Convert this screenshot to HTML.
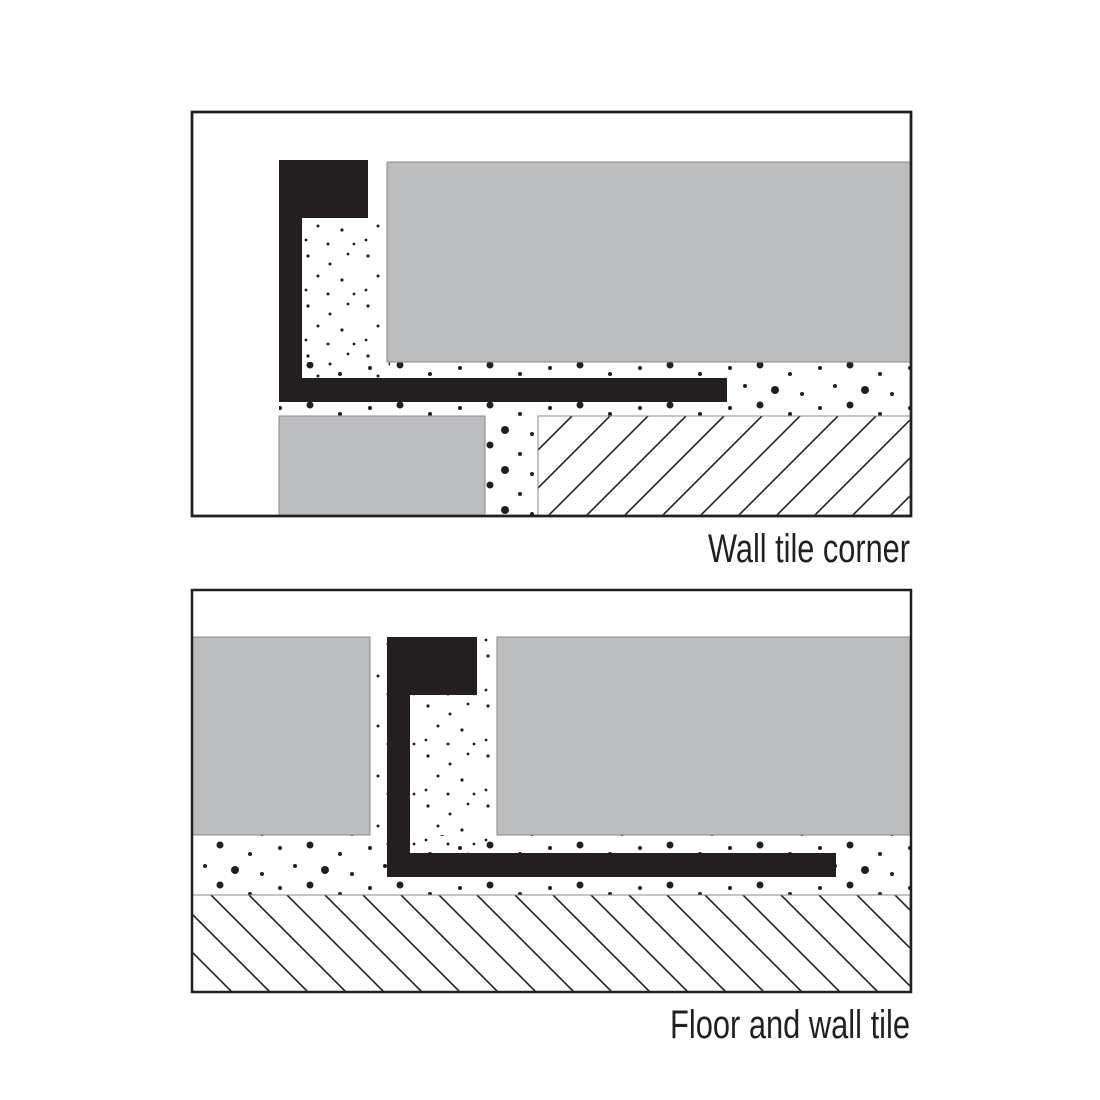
<!DOCTYPE html>
<html><head><meta charset="utf-8"><style>html,body{margin:0;padding:0;background:#fff}svg{display:block}</style></head>
<body>
<svg width="1100" height="1100" viewBox="0 0 1100 1100" xmlns="http://www.w3.org/2000/svg">
<defs>
<pattern id="hf" patternUnits="userSpaceOnUse" width="38" height="38" patternTransform="rotate(0)">
<path d="M-10 48 L48 -10 M-48 48 L10 -10 M28 48 L86 -10" stroke="#231f20" stroke-width="1.6"/>
</pattern>
<pattern id="hb" patternUnits="userSpaceOnUse" width="38" height="38">
<path d="M-10 -10 L48 48 M-48 -10 L10 48 M28 -10 L86 48" stroke="#231f20" stroke-width="1.6"/>
</pattern>
<pattern id="dots" patternUnits="userSpaceOnUse" width="60" height="50">
<circle cx="8" cy="6" r="1.6" fill="#231f20"/><circle cx="30" cy="14" r="1.5" fill="#231f20"/>
<circle cx="48" cy="4" r="1.4" fill="#231f20"/><circle cx="18" cy="26" r="1.5" fill="#231f20"/>
<circle cx="42" cy="30" r="1.6" fill="#231f20"/><circle cx="6" cy="40" r="1.4" fill="#231f20"/>
<circle cx="28" cy="44" r="1.5" fill="#231f20"/><circle cx="54" cy="44" r="1.4" fill="#231f20"/>
</pattern>
<pattern id="bigdots" patternUnits="userSpaceOnUse" width="90" height="40">
<circle cx="10" cy="8" r="2" fill="#231f20"/><circle cx="40" cy="5" r="3.5" fill="#231f20"/>
<circle cx="70" cy="14" r="2" fill="#231f20"/><circle cx="25" cy="26" r="2" fill="#231f20"/>
<circle cx="55" cy="30" r="4" fill="#231f20"/><circle cx="82" cy="34" r="2" fill="#231f20"/>
</pattern>
</defs>

<!-- TOP DIAGRAM -->
<rect x="192" y="112" width="719" height="404" fill="#fff" stroke="#231f20" stroke-width="2.5"/>
<rect x="300" y="215" width="90" height="165" fill="url(#dots)"/>
<rect x="279" y="362" width="631" height="54" fill="url(#bigdots)"/>
<rect x="485" y="416" width="53" height="99" fill="url(#bigdots)"/>
<rect x="387" y="162" width="523" height="200" fill="#bcbdbf" stroke="#888" stroke-width="1"/>
<path d="M279 160 H368 V218 H302 V378 H727 V402 H279 Z" fill="#231f20"/>
<rect x="279" y="416" width="206" height="99" fill="#bcbdbf" stroke="#888" stroke-width="1"/>
<rect x="538" y="416" width="372" height="99" fill="url(#hf)" stroke="#888" stroke-width="1"/>
<rect x="192" y="112" width="719" height="404" fill="none" stroke="#231f20" stroke-width="2.5"/>
<text x="910" y="562" text-anchor="end" font-family="Liberation Sans Narrow, Liberation Sans, sans-serif" font-size="40" textLength="202" lengthAdjust="spacingAndGlyphs" fill="#231f20">Wall tile corner</text>

<!-- BOTTOM DIAGRAM -->
<rect x="192" y="590" width="719" height="402" fill="#fff"/>
<rect x="370" y="637" width="127" height="220" fill="url(#dots)"/>
<rect x="192" y="835" width="718" height="60" fill="url(#bigdots)"/>
<rect x="192" y="637" width="178" height="198" fill="#bcbdbf" stroke="#888" stroke-width="1"/>
<rect x="497" y="637" width="413" height="198" fill="#bcbdbf" stroke="#888" stroke-width="1"/>
<path d="M387 637 H477 V695 H410 V853 H836 V877 H387 Z" fill="#231f20"/>
<rect x="192" y="895" width="718" height="97" fill="url(#hb)" stroke="#888" stroke-width="1"/>
<rect x="192" y="590" width="719" height="402" fill="none" stroke="#231f20" stroke-width="2.5"/>
<text x="910" y="1038" text-anchor="end" font-family="Liberation Sans Narrow, Liberation Sans, sans-serif" font-size="40" textLength="240" lengthAdjust="spacingAndGlyphs" fill="#231f20">Floor and wall tile</text>
</svg>
</body></html>
